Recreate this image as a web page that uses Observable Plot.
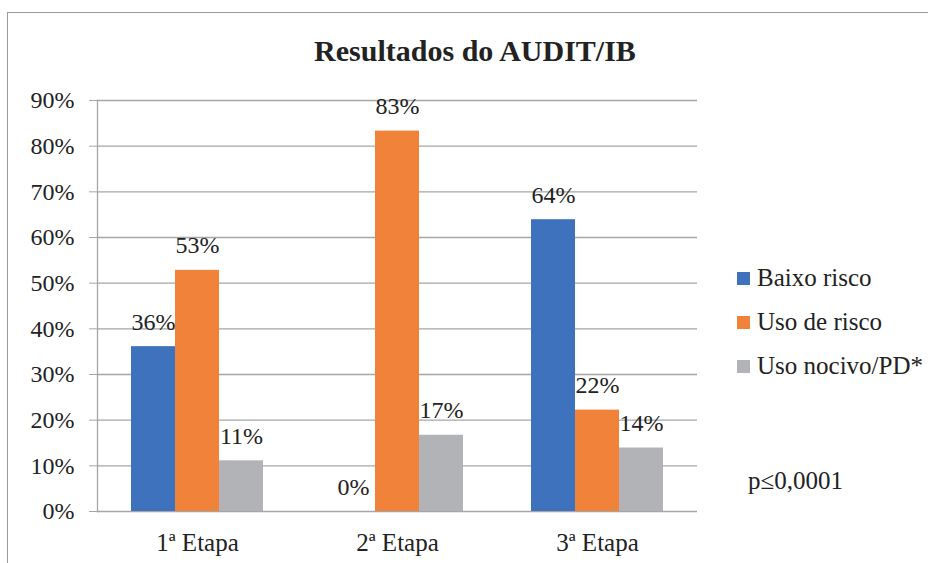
<!DOCTYPE html>
<html>
<head>
<meta charset="utf-8">
<script src="https://cdn.jsdelivr.net/npm/d3@7"></script>
<script src="https://cdn.jsdelivr.net/npm/@observablehq/plot@0.6"></script>
<style>
  html, body { margin: 0; padding: 0; background: #fff; }
  #wrap { position: relative; width: 928px; height: 563px; overflow: hidden;
          font-family: "Liberation Serif", "Times New Roman", serif; color: #222; }
  #border { position: absolute; left: 7px; top: 12px; width: 960px; height: 600px;
            border: 1.5px solid #9a9a9a; box-sizing: border-box; }
  #chart { position: absolute; left: 0; top: 0; }
  #title { position: absolute; left: 0; width: 950px; top: 33px; text-align: center;
           font-weight: bold; font-size: 30px; line-height: 36px; }
  .leg { position: absolute; left: 737px; font-size: 25px; line-height: 28px; display: flex; align-items: center; white-space: nowrap; }
  .sw { width: 13px; height: 13px; margin-right: 7px; display: inline-block; }
  #note { position: absolute; left: 748px; top: 467px; font-size: 25px; line-height: 28px; }
</style>
</head>
<body>
<div id="wrap">
  <div id="border"></div>
  <div id="chart"></div>
  <div id="title">Resultados do AUDIT/IB</div>
  <div id="legend"></div>
  <div id="note">p≤0,0001</div>
</div>
<script>
const etapas = ["1ª Etapa", "2ª Etapa", "3ª Etapa"];
const series = ["Baixo risco", "Uso de risco", "Uso nocivo/PD*"];
const colors = ["#3E72BD", "#F0823A", "#B2B3B7"];
const baixoRisco = [0.361, 0.0, 0.639];
const usoDeRisco = [0.528, 0.833, 0.222];
const usoNocivo = [0.111, 0.167, 0.139];
const yTicks = [0, 0.1, 0.2, 0.3, 0.4, 0.5, 0.6, 0.7, 0.8, 0.9];

const valuesBySeries = [baixoRisco, usoDeRisco, usoNocivo];
const rows = [];
etapas.forEach((e, i) => series.forEach((s, j) => rows.push({etapa: e, serie: s, valor: valuesBySeries[j][i]})));

const chart = Plot.plot({
  width: 928,
  height: 563,
  marginTop: 100,
  marginBottom: 52,
  marginLeft: 96,
  marginRight: 231,
  style: {fontFamily: "'Liberation Serif', 'Times New Roman', serif", fontSize: "24px", color: "#222", background: "transparent", overflow: "visible"},
  fx: {domain: etapas, padding: 0, label: null},
  x: {domain: series, paddingInner: 0, paddingOuter: 0.74, axis: null},
  y: {domain: [0, 0.9], label: null},
  color: {domain: series, range: colors},
  marks: [
    Plot.gridY(yTicks, {stroke: "#A6A6A6", strokeOpacity: 1, strokeWidth: 1.3}),
    Plot.axisY(yTicks, {tickSize: 8, tickPadding: 15, stroke: "#A6A6A6", strokeOpacity: 1, fill: "#222", fontSize: 24,
      tickFormat: d => Math.round(d * 100) + "%", label: null}),
    Plot.axisFx({anchor: "bottom", tickSize: 0, tickPadding: 22, fill: "#222", fontSize: 25, label: null}),
    Plot.frame({anchor: "left", facetAnchor: "left", stroke: "#A6A6A6", strokeWidth: 1.3}),
    Plot.barY(rows, {fx: "etapa", x: "serie", y: "valor", fill: "serie"}),
    Plot.text(rows, {fx: "etapa", x: "serie", y: "valor", text: d => Math.round(d.valor * 100) + "%",
      lineAnchor: "bottom", dy: -17, fill: "#222", fontSize: 24})
  ]
});
document.getElementById("chart").appendChild(chart);

const legendTops = [264, 308, 352];
const legend = document.getElementById("legend");
series.forEach((s, i) => {
  const div = document.createElement("div");
  div.className = "leg";
  div.style.top = legendTops[i] + "px";
  div.innerHTML = `<span class="sw" style="background:${colors[i]}"></span><span>${s}</span>`;
  legend.appendChild(div);
});
</script>
</body>
</html>
